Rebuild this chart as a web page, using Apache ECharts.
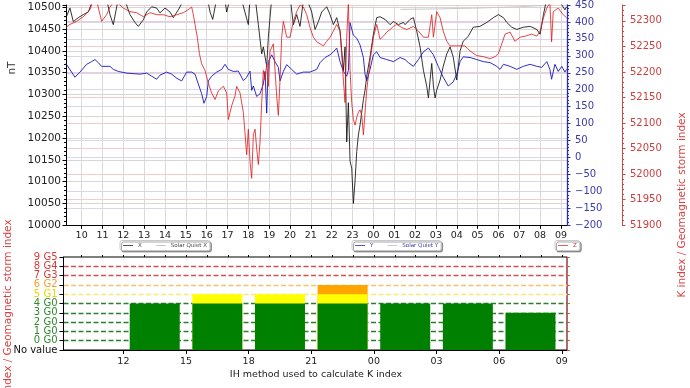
<!DOCTYPE html>
<html><head><meta charset="utf-8">
<script src="https://cdn.jsdelivr.net/npm/echarts@6/dist/echarts.min.js"></script>
<style>html,body{margin:0;padding:0;background:#fff}#c{width:690px;height:388px}</style>
</head><body><div id="c"></div><script>
// ---- data (hours since 00:00 of day 1; >24 = next day) ----
const xHours=[9.25,9.44,9.60,9.84,10.08,10.32,10.56,10.88,11.20,11.36,11.52,11.76,12.08,12.32,12.56,12.72,12.96,13.12,13.36,13.60,13.76,14.00,14.24,14.40,14.64,14.88,15.20,15.68,16.02,16.16,16.29,16.48,16.88,16.96,17.12,17.60,18.00,18.08,18.32,18.48,18.64,18.72,18.88,18.96,19.04,19.12,19.52,20.00,20.16,20.32,20.48,20.64,20.80,21.04,21.20,21.36,21.52,21.76,21.92,22.08,22.24,22.40,22.56,22.64,22.72,22.80,22.88,22.96,23.04,23.12,23.20,23.28,23.36,23.44,23.52,23.60,23.68,23.84,24.00,24.16,24.32,24.56,24.80,24.96,25.20,25.44,25.52,25.76,25.92,26.08,26.24,26.40,26.56,26.64,26.72,26.80,26.88,26.96,27.04,27.20,27.35,27.52,27.68,27.83,28.00,28.16,28.31,28.55,28.79,29.11,29.44,29.76,30.00,30.24,30.40,30.64,30.88,31.19,31.52,31.84,32.00,32.16,32.32,32.72,33.19,33.27];
const xVals=[10476,10498,10467,10476,10483,10489,10520,10525,10518,10483,10460,10520,10515,10483,10465,10456,10471,10489,10501,10498,10487,10498,10489,10476,10494,10515,10530,10535,10525,10489,10472,10520,10515,10489,10520,10530,10460,10520,10525,10460,10393,10409,10364,10431,10476,10520,10530,10525,10460,10483,10456,10515,10520,10489,10449,10467,10489,10501,10483,10460,10476,10445,10355,10409,10191,10281,10147,10131,10050,10102,10169,10207,10230,10259,10288,10310,10342,10386,10438,10476,10478,10472,10460,10467,10460,10465,10460,10472,10476,10445,10409,10355,10319,10292,10333,10371,10319,10292,10310,10333,10364,10393,10409,10386,10333,10400,10422,10433,10454,10456,10465,10476,10483,10476,10465,10454,10449,10454,10456,10449,10438,10483,10520,10530,10494,10501];

const yHours=[9.25,9.68,9.92,10.24,10.48,10.64,10.80,10.96,11.36,11.52,11.76,12.16,12.80,13.12,13.36,13.60,13.76,14.08,14.32,14.56,14.80,15.04,15.28,15.44,15.60,15.76,15.87,16.00,16.08,16.24,16.48,16.72,16.88,17.04,17.28,17.52,17.76,17.92,18.08,18.16,18.24,18.40,18.56,18.72,18.80,18.88,18.96,19.12,19.28,19.44,19.52,19.68,19.84,20.08,20.32,20.64,20.96,21.28,21.44,21.68,21.92,22.08,22.24,22.40,22.56,22.72,22.80,22.88,23.04,23.20,23.36,23.52,23.60,23.68,23.84,24.00,24.16,24.32,24.64,24.96,25.28,25.52,25.68,25.92,26.16,26.40,26.64,26.88,27.11,27.35,27.59,27.83,28.00,28.16,28.31,28.64,28.96,29.27,29.60,29.92,30.08,30.24,30.56,30.88,31.19,31.52,31.84,32.08,32.32,32.47,32.55,32.71,32.87,33.04,33.19,33.27];
const yVals=[277,237,252,275,283,289,280,269,269,260,254,249,246,249,240,231,243,252,246,234,226,252,252,246,217,188,160,180,226,240,252,260,275,260,254,255,227,237,255,198,211,180,188,217,254,131,283,303,283,266,226,254,274,260,246,252,252,260,280,295,303,312,323,283,254,240,257,398,361,352,332,295,246,226,260,303,312,295,289,283,295,289,280,269,289,312,323,303,269,237,211,223,246,283,297,295,289,283,280,269,260,275,269,260,269,275,269,266,283,260,231,275,254,269,252,260];

const zHours=[9.25,9.44,9.76,10.08,10.40,10.56,10.72,10.96,11.20,11.36,11.60,12.00,12.32,12.64,12.96,13.28,13.60,13.92,14.24,14.56,14.88,15.12,15.28,15.36,15.44,15.55,15.65,15.76,15.92,16.08,16.24,16.40,16.56,16.80,16.96,17.04,17.20,17.36,17.44,17.60,17.76,17.92,18.00,18.08,18.16,18.24,18.32,18.40,18.48,18.56,18.64,18.72,18.80,18.88,18.96,19.04,19.20,19.28,19.36,19.44,19.52,19.60,19.68,19.84,20.00,20.16,20.32,20.48,20.64,20.80,20.96,21.12,21.28,21.44,21.60,21.76,21.92,22.08,22.24,22.40,22.48,22.56,22.64,22.72,22.80,22.88,22.96,23.04,23.12,23.20,23.28,23.36,23.44,23.52,23.60,23.68,23.76,23.84,24.00,24.16,24.32,24.48,24.64,24.80,24.96,25.12,25.36,25.60,25.92,26.16,26.40,26.64,26.80,26.88,27.04,27.20,27.35,27.52,27.68,27.92,28.16,28.40,28.64,28.96,29.27,29.60,29.84,30.00,30.16,30.32,30.56,30.79,31.04,31.28,31.60,31.84,32.00,32.16,32.32,32.47,32.55,32.63,32.87,33.11,33.27];
const zVals=[52287,52293,52299,52308,52322,52340,52340,52299,52312,52327,52340,52325,52318,52316,52308,52316,52312,52312,52308,52312,52316,52322,52327,52312,52293,52268,52236,52216,52203,52178,52159,52146,52163,52172,52159,52107,52134,52153,52172,52159,52121,52038,52088,52025,51992,52077,52088,52050,52019,52063,52140,52203,52184,52216,52172,52241,52255,52203,52153,52115,52184,52268,52299,52268,52268,52299,52318,52331,52327,52312,52287,52268,52259,52255,52251,52260,52268,52280,52293,52280,52236,52184,52140,52268,52335,52203,52140,52107,52096,52111,52121,52126,52115,52077,52121,52165,52192,52222,52268,52293,52264,52270,52278,52283,52289,52293,52287,52283,52289,52280,52268,52268,52312,52268,52318,52306,52280,52260,52251,52251,52251,52251,52241,52232,52230,52226,52230,52236,52255,52274,52278,52260,52268,52270,52274,52270,52280,52306,52325,52335,52259,52318,52325,52312,52306];

const quietXHours=[25.3,27.0,29.0,31.0,32.6];
const quietXVals=[10495,10496,10498,10501,10505];

const topTicks=[10,11,12,13,14,15,16,17,18,19,20,21,22,23,24,25,26,27,28,29,30,31,32,33];
const bottomTicks=[12,15,18,21,24,27,30,33];
const kCenters=[10.5,13.5,16.5,19.5,22.5,25.5,28.5,31.5];
const kValues=[null,4,5,5,6,4,4,3];
const kLabels=['No value','0 G0','1 G0','2 G0','3 G0','4 G0','5 G1','6 G2','7 G3','8 G4','9 G5'];
const kLabelsEven=[0,2,4,6,8,10];
const kLabelsOdd=[1,3,5,7,9];

// ---- styles ----
const FF='"DejaVu Sans", sans-serif';
const GREEN='#008000', YELLOW='#ffff00', ORANGE='#ffa500';
const kLabelColors=['#111','#2e8b2e','#2e8b2e','#2e8b2e','#2e8b2e','#2e8b2e','#e8d800','#f0a030','#d93a3a','#d93a3a','#d93a3a'];
const kLineColors=['rgba(0,0,0,0)','#2e7d2e','#2e7d2e','#2e7d2e','#2e7d2e','#2e7d2e','#f2ec70','#f5c46a','#d65050','#d65050','rgba(0,0,0,0)'];
const fmtHour=v=>String(Math.round(v)%24).padStart(2,'0');
const zip=(a,b)=>a.map((h,i)=>[h,b[i]]);
const kFmt=v=>kLabels[Math.round(v)]||'';
const kCol=v=>kLabelColors[Math.round(Number(v))]||'#111';

// overlapping bars, each drawn from "No value" (axis 0); axis value = K + 1
const orange=kValues.map((k,i)=>[kCenters[i], k!=null&&k>=6?k+1:null]);
const yellow=kValues.map((k,i)=>[kCenters[i], k!=null&&k>=5?Math.min(k,5)+1:null]);
const green=kValues.map((k,i)=>[kCenters[i], k==null?null:Math.min(k,4)+1]);

const chart=echarts.init(document.getElementById('c'));
const lineBase={type:'line',showSymbol:false,symbol:'none',xAxisIndex:0,animation:false};
chart.setOption({
  animation:false,
  textStyle:{fontFamily:FF},
  grid:[
    {left:66,top:0,width:501,height:225.3},
    {left:63.5,top:257,width:503.5,height:93,show:true,borderColor:'#000',borderWidth:1,backgroundColor:'transparent'}
  ],
  xAxis:[
    {gridIndex:0,type:'value',min:9.25,max:33.29,
     axisLine:{onZero:false,lineStyle:{color:'#000',width:1}},
     axisTick:{customValues:topTicks,length:3.5,lineStyle:{color:'#000'}},
     axisLabel:{customValues:topTicks,formatter:fmtHour,fontSize:9.5,color:'#222',margin:5,fontFamily:FF},
     splitLine:{show:true,lineStyle:{color:'#d9d9d9',width:1}}},
    {gridIndex:1,type:'value',min:9.13,max:33.25,
     axisLine:{onZero:false,lineStyle:{color:'#000',width:1}},
     axisTick:{customValues:bottomTicks,length:4,lineStyle:{color:'#000'}},
     axisLabel:{customValues:bottomTicks,formatter:fmtHour,fontSize:9.5,color:'#222',margin:7,fontFamily:FF},
     splitLine:{show:false}},
    {gridIndex:1,type:'value',min:9.13,max:33.25,
     axisLine:{show:false,onZero:false},
     axisTick:{customValues:topTicks,length:2,lineStyle:{color:'#000'}},
     axisLabel:{show:false},splitLine:{show:false}}
  ],
  yAxis:[
    {gridIndex:0,type:'value',position:'left',min:10000,max:10505,interval:50,
     axisLine:{show:true,lineStyle:{color:'#000',width:1}},
     axisTick:{show:true,length:3.5,lineStyle:{color:'#000'}},
     minorTick:{show:true,splitNumber:5,length:2,lineStyle:{color:'#000'}},
     axisLabel:{fontSize:10.5,color:'#222',margin:5,fontFamily:FF,formatter:v=>v%50===0?String(v):''},
     splitLine:{show:true,lineStyle:{color:'#d6d6d6',width:1}}},
    {gridIndex:0,type:'value',position:'right',min:-200,max:450,interval:50,
     axisLine:{show:true,lineStyle:{color:'#2b2bb0',width:1.3}},
     axisTick:{show:true,length:3.5,lineStyle:{color:'#2b2bb0'}},
     minorTick:{show:true,splitNumber:5,length:2,lineStyle:{color:'#2b2bb0'}},
     axisLabel:{fontSize:10,color:'#3a3aaa',margin:8,fontFamily:FF,formatter:v=>v%50===0?(v<0?'\u2212'+(-v):String(v)):''},
     splitLine:{show:true,lineStyle:{color:'#d6d6f0',width:1}}},
    {gridIndex:0,type:'value',position:'right',offset:55,min:51900,max:52331,interval:50,
     axisLine:{show:true,lineStyle:{color:'#d04848',width:1}},
     axisTick:{show:true,length:3.5,lineStyle:{color:'#d04848'}},
     minorTick:{show:true,splitNumber:5,length:2,lineStyle:{color:'#d04848'}},
     axisLabel:{fontSize:10,color:'#cc3f3f',margin:8,fontFamily:FF,formatter:v=>v%50===0?String(v):''},
     splitLine:{show:true,lineStyle:{color:'#f2cccc',width:1}}},
    {gridIndex:1,type:'value',position:'left',min:0,max:10,interval:1,
     axisLine:{show:true,lineStyle:{color:'#000'}},
     axisTick:{show:true,length:4,lineStyle:{color:'#000'}},
     axisLabel:{customValues:kLabelsEven,fontSize:10,margin:6,fontFamily:FF,showMinLabel:true,showMaxLabel:true,formatter:kFmt,color:kCol},
     splitLine:{show:true,lineStyle:{color:kLineColors,type:[5,2.5],width:1.3}}},
    {gridIndex:1,type:'value',position:'left',min:0,max:10,interval:1,
     axisLine:{show:false},axisTick:{show:false},splitLine:{show:false},
     axisLabel:{customValues:kLabelsOdd,fontSize:10,margin:6,fontFamily:FF,showMinLabel:true,showMaxLabel:true,formatter:kFmt,color:kCol}},
    {gridIndex:1,type:'value',position:'right',min:0,max:10,interval:1,
     axisLine:{show:true,lineStyle:{color:'#d65a5a'}},
     axisTick:{show:true,length:3,lineStyle:{color:'#d65a5a'}},
     axisLabel:{show:false},splitLine:{show:false}}
  ],
  legend:[
    {left:120,top:240.5,data:['X','Solar Quiet X'],icon:'rect',itemWidth:10,itemHeight:1,itemGap:14,padding:[2,3],
     textStyle:{fontSize:5.5,color:'#444',fontFamily:FF},borderColor:'#c8c8c8',borderWidth:1,borderRadius:2,backgroundColor:'#fff',
     shadowColor:'rgba(0,0,0,0.35)',shadowOffsetX:1.5,shadowOffsetY:1.5,shadowBlur:0},
    {left:352,top:240.5,data:['Y','Solar Quiet Y'],icon:'rect',itemWidth:10,itemHeight:1,itemGap:14,padding:[2,3],
     textStyle:{fontSize:5.5,color:'#3535aa',fontFamily:FF},borderColor:'#c8c8c8',borderWidth:1,borderRadius:2,backgroundColor:'#fff',
     shadowColor:'rgba(0,0,0,0.35)',shadowOffsetX:1.5,shadowOffsetY:1.5,shadowBlur:0},
    {left:555,top:240.5,data:['Z'],icon:'rect',itemWidth:10,itemHeight:1,padding:[2,3],
     textStyle:{fontSize:5.5,color:'#d04040',fontFamily:FF},borderColor:'#c8c8c8',borderWidth:1,borderRadius:2,backgroundColor:'#fff',
     shadowColor:'rgba(0,0,0,0.35)',shadowOffsetX:1.5,shadowOffsetY:1.5,shadowBlur:0}
  ],
  series:[
    Object.assign({},lineBase,{name:'Solar Quiet X',yAxisIndex:0,data:zip(quietXHours,quietXVals),lineStyle:{color:'#c9c9c9',width:1},itemStyle:{color:'#c9c9c9'},z:2}),
    Object.assign({},lineBase,{name:'Solar Quiet Y',yAxisIndex:1,data:[],lineStyle:{color:'#c9c9e6',width:1},itemStyle:{color:'#c9c9e6'},z:2}),
    Object.assign({},lineBase,{name:'X',yAxisIndex:0,data:zip(xHours,xVals),lineStyle:{color:'#111',width:1,opacity:0.85},itemStyle:{color:'#555'},z:3}),
    Object.assign({},lineBase,{name:'Y',yAxisIndex:1,data:zip(yHours,yVals),lineStyle:{color:'#1818c0',width:1,opacity:0.9},itemStyle:{color:'#5555cc'},z:4}),
    Object.assign({},lineBase,{name:'Z',yAxisIndex:2,data:zip(zHours,zVals),lineStyle:{color:'#e01818',width:1,opacity:0.8},itemStyle:{color:'#e06060'},z:5}),
    {type:'bar',name:'ko',xAxisIndex:1,yAxisIndex:3,barWidth:50,barGap:'-100%',data:orange,itemStyle:{color:ORANGE},z:10,animation:false},
    {type:'bar',name:'ky',xAxisIndex:1,yAxisIndex:3,barWidth:50,barGap:'-100%',data:yellow,itemStyle:{color:YELLOW},z:11,animation:false},
    {type:'bar',name:'kg',xAxisIndex:1,yAxisIndex:3,barWidth:50,barGap:'-100%',data:green,itemStyle:{color:GREEN},z:12,animation:false}
  ],
  graphic:[
    {type:'text',x:12,y:68,rotation:Math.PI/2,style:{text:'nT',fill:'#333',font:'10.5px '+FF,align:'center',verticalAlign:'middle',textAlign:'center',textVerticalAlign:'middle'}},
    {type:'text',x:682,y:205,rotation:Math.PI/2,style:{text:'K index / Geomagnetic storm index',fill:'#d94545',font:'10.5px '+FF,align:'center',verticalAlign:'middle',textAlign:'center',textVerticalAlign:'middle'}},
    {type:'text',x:8,y:312,rotation:Math.PI/2,style:{text:'K index / Geomagnetic storm index',fill:'#d94545',font:'10.5px '+FF,align:'center',verticalAlign:'middle',textAlign:'center',textVerticalAlign:'middle'}},
    {type:'text',x:316,y:375,style:{text:'IH method used to calculate K index',fill:'#222',font:'9.5px '+FF,align:'center',verticalAlign:'middle',textAlign:'center',textVerticalAlign:'middle'}}
  ]
});
</script></body></html>
